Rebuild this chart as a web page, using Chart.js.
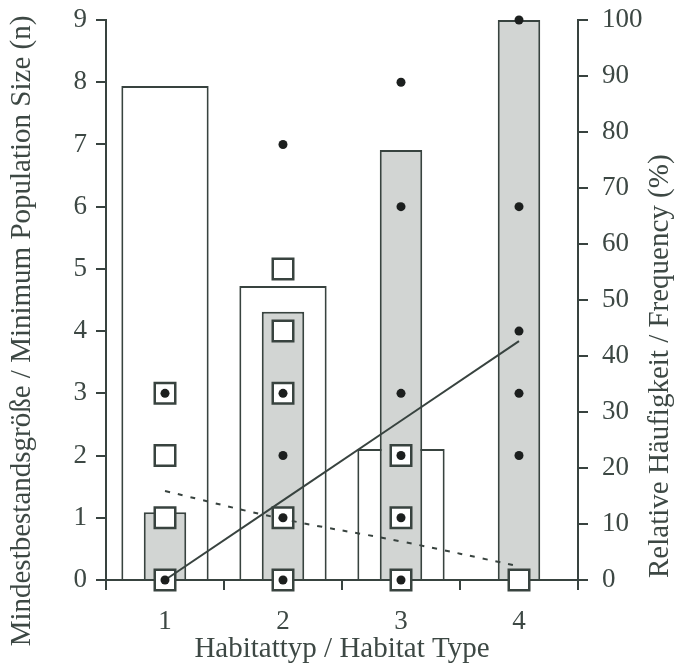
<!DOCTYPE html>
<html>
<head>
<meta charset="utf-8">
<script src="https://cdn.jsdelivr.net/npm/chart.js@4.4.1/dist/chart.umd.min.js"></script>
<style>
    html, body { margin: 0; padding: 0; background: #fff; }
    #wrap { width: 676px; height: 667px; }
</style>
</head>
<body>
<div id="wrap"><canvas id="chart" width="676" height="667"></canvas></div>
<script>
// Habitattypen (x-Achse)
const habitatTypes = ['1', '2', '3', '4'];
// Relative Häufigkeit (%) - weiße Balken (breit) und graue Balken (schmal)
const freqWhite = [88.2, 52.5, 23.4, 0];
const freqGrey = [12.1, 47.9, 76.8, 100];
// offene Quadrate: Habitattyp + Mindestbestandsgröße
const squareHabitat = ['1', '1', '1', '1', '2', '2', '2', '2', '2', '3', '3', '3', '4'];
const squareSize = [0, 1, 2, 3, 0, 1, 3, 4, 5, 0, 1, 2, 0];
// schwarze Punkte
const dotHabitat = ['1', '1', '2', '2', '2', '2', '2', '3', '3', '3', '3', '3', '3', '4', '4', '4', '4', '4'];
const dotSize = [0, 3, 0, 1, 2, 3, 7, 0, 1, 2, 3, 6, 8, 2, 3, 4, 6, 9];
// Trendlinien
const trendSolid = [0, 1.28, 2.56, 3.84];
const trendDashed = [1.43, 0.98, 0.62, 0.22];
// Achsenbeschriftung
const leftTicks = [0, 1, 2, 3, 4, 5, 6, 7, 8, 9];
const rightTicks = [0, 10, 20, 30, 40, 50, 60, 70, 80, 90, 100];
const xTitle = 'Habitattyp / Habitat Type';
const leftTitle = 'Mindestbestandsgröße / Minimum Population Size (n)';
const rightTitle = 'Relative Häufigkeit / Frequency (%)';

const ink = '#38433f';
const textColor = '#3d4844';
const serif = "'Liberation Serif', 'DejaVu Serif', serif";

// Titel der y-Achsen: beide von unten nach oben gelesen
const yTitles = {
    id: 'yTitles',
    afterDraw(chart) {
        const { ctx, chartArea } = chart;
        ctx.save();
        ctx.font = '29px ' + serif;
        ctx.fillStyle = textColor;
        ctx.textBaseline = 'middle';
        ctx.save();
        ctx.translate(22, 331);
        ctx.rotate(-Math.PI / 2);
        ctx.textAlign = 'center';
        ctx.fillText(leftTitle, 0, 0);
        ctx.restore();
        ctx.save();
        ctx.translate(660, chartArea.bottom - 2);
        ctx.rotate(-Math.PI / 2);
        ctx.textAlign = 'left';
        ctx.fillText(rightTitle, 0, 0);
        ctx.restore();
        ctx.restore();
    }
};

// feste Breite der y-Achsen, ohne zusätzlichen Rand oben/unten
const fitY = w => s => {
    s.width = w;
    s.paddingTop = 0;
    s.paddingBottom = 0;
};

const ctx = document.getElementById('chart').getContext('2d');
new Chart(ctx, {
    data: {
        labels: habitatTypes,
        datasets: [
            {
                type: 'line',
                data: dotHabitat.map((h, i) => ({ x: h, y: dotSize[i] })),
                yAxisID: 'y',
                showLine: false,
                pointStyle: 'circle',
                pointRadius: 4.5,
                pointBorderWidth: 0,
                pointBackgroundColor: '#1c1f1e',
                clip: false,
                order: 0
            },
            {
                type: 'line',
                data: trendSolid,
                yAxisID: 'y',
                borderColor: ink,
                borderWidth: 2,
                pointRadius: 0,
                fill: false,
                clip: false,
                order: 1
            },
            {
                type: 'line',
                data: trendDashed,
                yAxisID: 'y',
                borderColor: ink,
                borderWidth: 2,
                borderDash: [5, 8],
                tension: 0.4,
                pointRadius: 0,
                fill: false,
                clip: false,
                order: 1
            },
            {
                type: 'line',
                data: squareHabitat.map((h, i) => ({ x: h, y: squareSize[i] })),
                yAxisID: 'y',
                showLine: false,
                pointStyle: 'rect',
                pointRadius: 14.5,
                pointBorderWidth: 2.5,
                pointBorderColor: ink,
                pointBackgroundColor: '#ffffff',
                clip: false,
                order: 2
            },
            {
                type: 'bar',
                data: freqGrey,
                yAxisID: 'y1',
                backgroundColor: '#d2d5d3',
                borderColor: ink,
                borderWidth: 2,
                grouped: false,
                barPercentage: 0.36,
                categoryPercentage: 1,
                order: 3
            },
            {
                type: 'bar',
                data: freqWhite,
                yAxisID: 'y1',
                backgroundColor: '#ffffff',
                borderColor: ink,
                borderWidth: 2,
                grouped: false,
                barPercentage: 0.74,
                categoryPercentage: 1,
                order: 4
            }
        ]
    },
    options: {
        responsive: false,
        animation: false,
        layout: { padding: { top: 20, left: 0, right: 0, bottom: 0 } },
        plugins: {
            legend: { display: false },
            tooltip: { enabled: false }
        },
        scales: {
            x: {
                type: 'category',
                offset: true,
                grid: { //nur Striche unten, keine Linien im Diagramm
                    offset: true,
                    drawOnChartArea: false,
                    drawTicks: true,
                    tickLength: 10,
                    color: ink,
                    lineWidth: 2
                },
                border: { display: true, color: ink, width: 2 },
                ticks: { font: { family: serif, size: 27 }, color: textColor, padding: 16 },
                title: {
                    display: true,
                    text: xTitle,
                    font: { family: serif, size: 29 },
                    color: textColor,
                    padding: { top: 0, bottom: 0 }
                },
                afterFit: s => { s.height = 87; }
            },
            y: {
                position: 'left',
                min: 0,
                max: 9,
                afterBuildTicks: s => { s.ticks = leftTicks.map(v => ({ value: v })); },
                grid: { drawOnChartArea: false, drawTicks: true, tickLength: 10, color: ink, lineWidth: 2 },
                border: { display: true, color: ink, width: 2 },
                ticks: { font: { family: serif, size: 27 }, color: textColor, padding: 9 },
                afterFit: fitY(106)
            },
            y1: {
                position: 'right',
                min: 0,
                max: 100,
                afterBuildTicks: s => { s.ticks = rightTicks.map(v => ({ value: v })); },
                grid: { drawOnChartArea: false, drawTicks: true, tickLength: 10, color: ink, lineWidth: 2 },
                border: { display: true, color: ink, width: 2 },
                ticks: { font: { family: serif, size: 27 }, color: textColor, padding: 14 },
                afterFit: fitY(98)
            }
        }
    },
    plugins: [yTitles]
});
</script>
</body>
</html>
